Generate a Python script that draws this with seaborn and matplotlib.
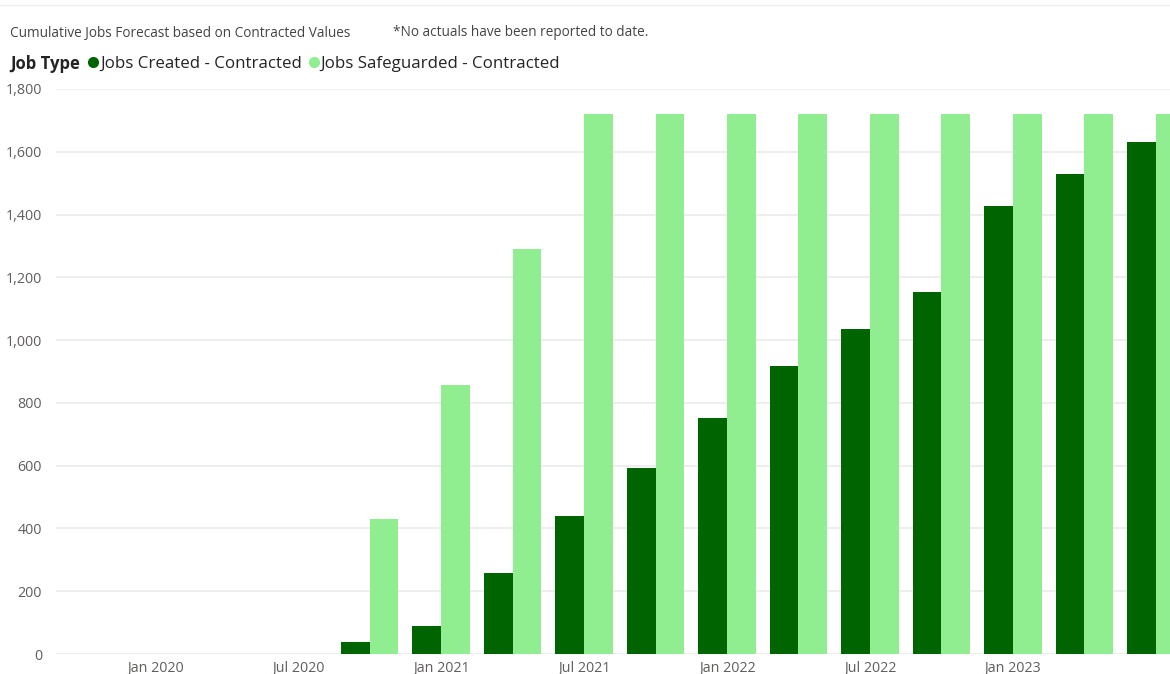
import matplotlib
matplotlib.use("Agg")
import matplotlib.pyplot as plt
import seaborn as sns
import pandas as pd
from matplotlib.lines import Line2D
from matplotlib.ticker import FuncFormatter

quarters = ["Jan 2020", "Apr 2020", "Jul 2020", "Oct 2020",
            "Jan 2021", "Apr 2021", "Jul 2021", "Oct 2021",
            "Jan 2022", "Apr 2022", "Jul 2022", "Oct 2022",
            "Jan 2023", "Apr 2023", "Jul 2023"]
jobs_created = [0, 0, 0, 38, 89, 258, 440, 592, 753, 919, 1036, 1153, 1427, 1530, 1630]
jobs_safeguarded = [0, 0, 0, 429, 858, 1289, 1720, 1720, 1720, 1720, 1720, 1720, 1720, 1720, 1720]
series_names = ["Jobs Created - Contracted", "Jobs Safeguarded - Contracted"]
colors = ["#006400", "#90EE90"]
tick_labels = ["Jan 2020", "Jul 2020", "Jan 2021", "Jul 2021", "Jan 2022", "Jul 2022", "Jan 2023"]

df = pd.DataFrame({
    "Quarter": quarters * 2,
    "Jobs": jobs_created + jobs_safeguarded,
    "Job Type": [series_names[0]] * len(quarters) + [series_names[1]] * len(quarters),
})

sns.set_theme(style="white")
plt.rcParams["font.family"] = ["Open Sans", "DejaVu Sans"]

W, H = 1170, 674
fig = plt.figure(figsize=(W / 100, H / 100), dpi=100)
ax = fig.add_axes([56 / W, 1 - 654 / H, 1 - 56 / W, (654 - 89) / H])

sns.barplot(data=df, x="Quarter", y="Jobs", hue="Job Type", order=quarters,
            hue_order=series_names, palette=colors, width=0.8, saturation=1,
            linewidth=0, edgecolor="none", ax=ax, legend=False)

ax.set_xlim(-1.385, 14.196)
ax.set_ylim(0, 1800)
ax.set_yticks(range(0, 1801, 200))
ax.yaxis.set_major_formatter(FuncFormatter(lambda v, p: f"{int(v):,}"))
ax.set_xticks([quarters.index(t) for t in tick_labels])
ax.set_xticklabels(tick_labels)
ax.set_xlabel("")
ax.set_ylabel("")
for s in ax.spines.values():
    s.set_visible(False)
ax.grid(axis="y", color="#ebebeb", linewidth=1.2)
ax.set_axisbelow(True)
ax.tick_params(axis="both", length=0, labelsize=10.3, colors="#605E5C")
ax.tick_params(axis="x", pad=5)
ax.tick_params(axis="y", pad=10)

# top separator
fig.add_artist(Line2D([0, 1], [1 - 5 / H, 1 - 5 / H], color="#eeeeee", linewidth=1))

fig.text(10 / W, 1 - 33 / H, "Cumulative Jobs Forecast based on Contracted Values",
         fontsize=9.8, color="#444444", va="center", ha="left")
fig.text(393 / W, 1 - 33 / H, "*No actuals have been reported to date.",
         fontsize=9.8, color="#444444", va="center", ha="left")
fig.text(10 / W, 1 - 64 / H, "Job Type", fontsize=12, fontweight="bold",
         color="#252423", va="center", ha="left")

handles = [Line2D([0], [0], marker="o", linestyle="", markersize=7,
                  markerfacecolor=c, markeredgecolor=c) for c in colors]
leg = fig.legend(handles, series_names, loc="center left",
                 bbox_to_anchor=(85 / W, 1 - 64 / H), ncol=2, frameon=False,
                 fontsize=12.2, handletextpad=-0.1, columnspacing=0.2,
                 handlelength=1.0, borderpad=0, borderaxespad=0)
for t in leg.get_texts():
    t.set_color("#252423")

fig.savefig("out.png", dpi=100)
